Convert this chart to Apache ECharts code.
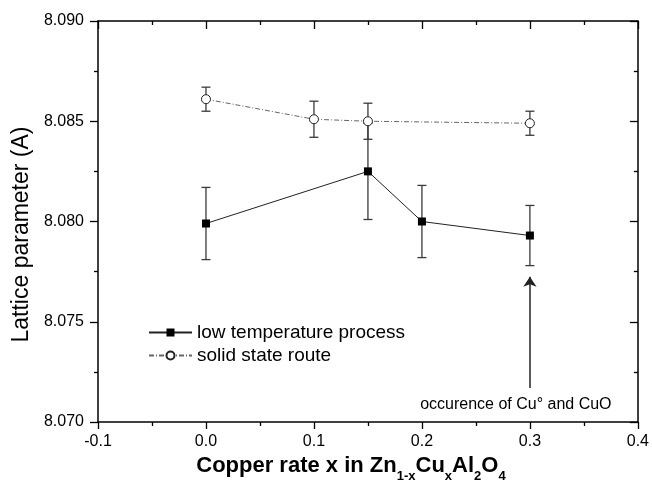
<!DOCTYPE html>
<html>
<head>
<meta charset="utf-8">
<script src="https://cdn.jsdelivr.net/npm/echarts@6/dist/echarts.min.js"></script>
<style>html,body{margin:0;padding:0;background:#fff}#c{width:652px;height:491px}</style>
</head>
<body>
<div id="c"></div>
<script>
// ---- data ----
const xLow = [0.0, 0.15, 0.2, 0.3];
const yLow = [8.0799, 8.0825, 8.0800, 8.0793];
const errLow = [0.0018, 0.0024, 0.0018, 0.0015];
const xSolid = [0.0, 0.1, 0.15, 0.3];
const ySolid = [8.0861, 8.0851, 8.0850, 8.0849];
const errSolid = [0.0006, 0.0009, 0.0009, 0.0006];
const nameLow = 'low temperature process';
const nameSolid = 'solid state route';
const xMin = -0.1, xMax = 0.4, xStep = 0.1;
const yMin = 8.070, yMax = 8.090, yStep = 0.005;
const annotX = 0.3, arrowFrom = 8.0717, arrowTo = 8.07725;
const annotTextX = 0.287, annotTextY = 8.07085;
const annotText = 'occurence of Cu° and CuO';

const font = 'Arial, "Liberation Sans", Helvetica, sans-serif';
const lowPts = xLow.map((x, i) => [x, yLow[i]]);
const solidPts = xSolid.map((x, i) => [x, ySolid[i]]);
const errData = xLow.map((x, i) => [x, yLow[i] - errLow[i], yLow[i] + errLow[i]])
  .concat(xSolid.map((x, i) => [x, ySolid[i] - errSolid[i], ySolid[i] + errSolid[i]]));

function renderErr(params, api) {
  const x = api.value(0);
  const lo = api.coord([x, api.value(1)]);
  const hi = api.coord([x, api.value(2)]);
  const w = 4.5;
  const st = { stroke: '#3a3a3a', lineWidth: 1.3, fill: null };
  return {
    type: 'group',
    children: [
      { type: 'line', shape: { x1: lo[0], y1: lo[1], x2: hi[0], y2: hi[1] }, style: st },
      { type: 'line', shape: { x1: lo[0] - w, y1: lo[1], x2: lo[0] + w, y2: lo[1] }, style: st },
      { type: 'line', shape: { x1: hi[0] - w, y1: hi[1], x2: hi[0] + w, y2: hi[1] }, style: st }
    ]
  };
}

const axisCommon = {
  axisLine: { show: true, onZero: false, lineStyle: { color: '#000', width: 1.5 } },
  splitLine: { show: false },
  minorTick: { show: true, splitNumber: 2, length: 4, lineStyle: { color: '#000', width: 1.3 } }
};

const chart = echarts.init(document.getElementById('c'), null, { renderer: 'canvas' });
chart.setOption({
  animation: false,
  backgroundColor: '#fff',
  grid: { left: 98, right: 11, top: 21, bottom: 69, containLabel: false },
  legend: {
    orient: 'vertical', left: 143, top: 318, itemWidth: 43, itemHeight: 10, itemGap: 4,
    textStyle: { fontFamily: font, fontSize: 19, color: '#000' },
    data: [nameLow, nameSolid]
  },
  xAxis: [
    Object.assign({}, axisCommon, {
      type: 'value', min: xMin, max: xMax, interval: xStep, position: 'bottom',
      axisTick: { show: true, inside: false, length: 7, lineStyle: { color: '#000', width: 1.3 } },
      axisLabel: { fontFamily: font, fontSize: 16, color: '#000', margin: 12,
        formatter: v => v.toFixed(1) },
      name: '{m|Copper rate x in Zn}{s|1-x}{m|Cu}{s|x}{m|Al}{s|2}{m|O}{s|4}',
      nameLocation: 'middle', nameGap: 26,
      nameTextStyle: {
        padding: [0, 34, 0, 0],
        rich: {
          m: { fontFamily: font, fontSize: 22, fontWeight: 'bold', color: '#000', verticalAlign: 'bottom' },
          s: { fontFamily: font, fontSize: 13, fontWeight: 'bold', color: '#000', verticalAlign: 'bottom', padding: [0, 0, -6, 0] }
        }
      }
    }),
    Object.assign({}, axisCommon, {
      type: 'value', min: xMin, max: xMax, interval: xStep, position: 'top',
      axisTick: { show: true, inside: true, length: 8, lineStyle: { color: '#000', width: 1.3 } },
      axisLabel: { show: false }
    })
  ],
  yAxis: [
    Object.assign({}, axisCommon, {
      type: 'value', min: yMin, max: yMax, interval: yStep, position: 'left',
      axisTick: { show: true, inside: false, length: 8, lineStyle: { color: '#000', width: 1.3 } },
      axisLabel: { fontFamily: font, fontSize: 16, color: '#000', margin: 14,
        formatter: v => v.toFixed(3) },
      name: 'Lattice parameter (A)', nameLocation: 'middle', nameGap: 60, nameRotate: 90,
      nameTextStyle: { fontFamily: font, fontSize: 23, color: '#000', padding: [0, 26, 0, 0] }
    }),
    Object.assign({}, axisCommon, {
      type: 'value', min: yMin, max: yMax, interval: yStep, position: 'right',
      axisTick: { show: true, inside: true, length: 8, lineStyle: { color: '#000', width: 1.3 } },
      axisLabel: { show: false }
    })
  ],
  series: [
    {
      type: 'custom', name: 'err', renderItem: renderErr, data: errData, z: 1,
      xAxisIndex: 0, yAxisIndex: 0, silent: true,
      itemStyle: { color: '#222' },
      markLine: {
        silent: true, symbol: ['none', 'arrow'], symbolSize: 10,
        lineStyle: { color: '#222', width: 1.5, type: 'solid' },
        itemStyle: { color: '#222' },
        label: { show: false },
        data: [[{ coord: [annotX, arrowFrom] }, { coord: [annotX, arrowTo] }]]
      },
      markPoint: {
        silent: true, symbol: 'circle', symbolSize: 0,
        label: { show: true, position: 'inside', fontFamily: font, fontSize: 16, color: '#000',
          formatter: annotText },
        data: [{ coord: [annotTextX, annotTextY] }]
      }
    },
    {
      type: 'line', name: nameLow, data: lowPts, z: 3,
      symbol: 'rect', symbolSize: 8, showSymbol: true,
      lineStyle: { color: '#222', width: 1 },
      itemStyle: { color: '#000', borderColor: '#000', borderWidth: 0 }
    },
    {
      type: 'line', name: nameSolid, data: solidPts, z: 3,
      symbol: 'circle', symbolSize: 9, showSymbol: true,
      lineStyle: { color: '#666', width: 1, type: [5, 2, 1, 2] },
      itemStyle: { color: '#fff', borderColor: '#222', borderWidth: 1 }
    }
  ]
});
</script>
</body>
</html>
